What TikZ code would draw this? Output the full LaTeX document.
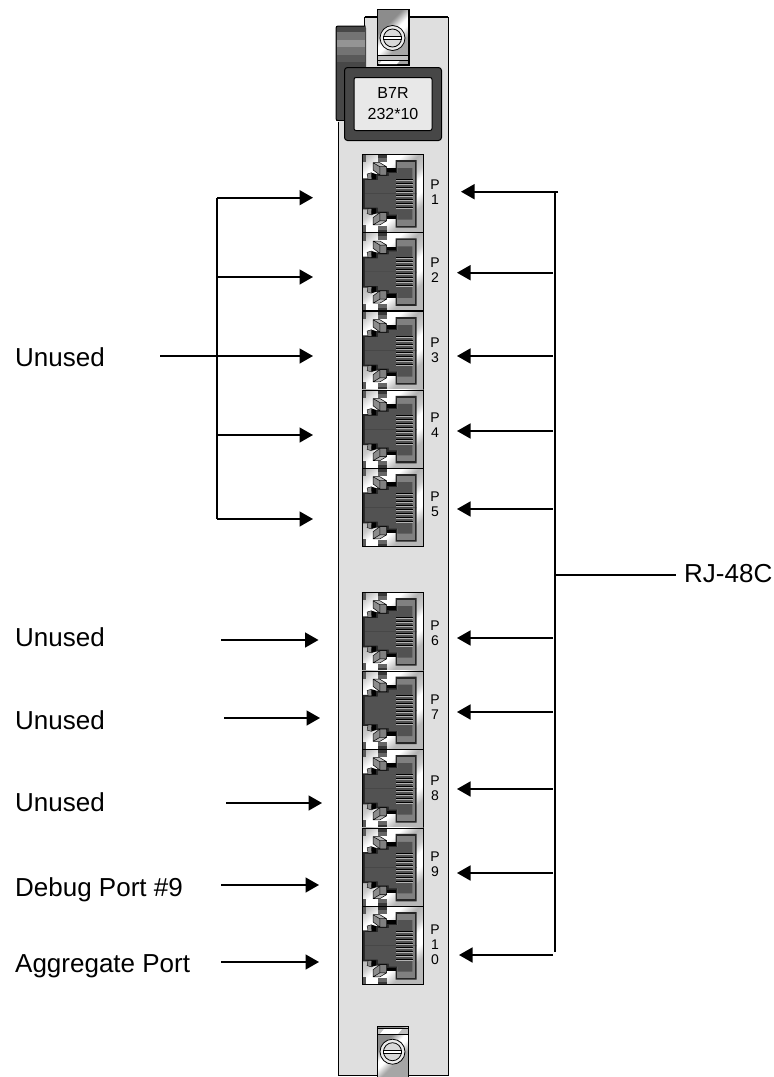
\documentclass[tikz,border=0pt]{standalone}
\usepackage{fontspec}
\setmainfont{Liberation Sans}
\usetikzlibrary{arrows.meta}
\definecolor{panelgray}{gray}{0.875}
\pgfdeclarehorizontalshading{metal}{100bp}{
  color(0bp)=(black!30); color(24bp)=(black!30); color(32bp)=(white); color(38bp)=(white); color(44bp)=(black!30);
  color(50bp)=(black!20); color(54bp)=(white); color(60bp)=(white); color(66bp)=(black!28); color(100bp)=(black!28)}
\pgfdeclarehorizontalshading{plate}{100bp}{
  color(0bp)=(black!45); color(35bp)=(black!45); color(46bp)=(white); color(52bp)=(white); color(62bp)=(black!35); color(100bp)=(black!35)}
\tikzset{
  lead/.style={line width=1.6pt,draw=black},
  pointer/.style={lead,-{Triangle[length=13.5pt,width=15pt]}},
  bigtext/.style={font=\fontsize{26}{30}\selectfont,inner sep=0pt,anchor=base west},
  portlabel/.style={font=\fontsize{14}{15}\selectfont,align=center,inner sep=0pt},
  portbox/.style={draw=black,line width=1pt,minimum width=61.5pt,minimum height=78pt,inner sep=0pt,anchor=north west},
}
\newcommand{\halfjack}{%
  \fill[black!60] (15.7,0)--(24.7,0)--(24.7,8)--(15.7,8)--cycle;
  \fill[black!78] (15.7,0.5)--(24.7,0.5)--(24.7,4)--(15.7,4)--cycle;
  \fill[black!65] (0.3,0)--(3.7,0)--(3.7,8.3)--(0.3,8.3)--cycle;
  % jack
  \fill[black!85] (33.7,6)--(54.7,6)--(54.7,40)--(1.3,40)--(1.3,24.3)--(14,24.3)--(14,20)--(24.7,20)--(24.7,16)--(33.7,16)--cycle;
  \fill[black!50] (35.5,8)--(53,8)--(53,40)--(35.5,40)--cycle;
  \fill[black!68] (3,40)--(3,26)--(16,26)--(16,22)--(27,22)--(27,19)--(35.5,19)--(35.5,14)--(50.5,14)--(50.5,40)--cycle;
  \fill[black] (24.7,14.3)--(33.7,14.3)--(33.7,17.7)--(24.7,17.7)--cycle;
  % latches
  \fill[black!28] (11.3,8.7)--(18,8.7)--(24.7,12.7)--(18,12.7)--cycle;
  \fill[black!45] (11.3,8.7)--(18,12.7)--(18,21)--(11.3,16)--cycle;
  \fill[black!50] (18,12.7)--(24.7,12.7)--(24.7,21)--(18,21)--cycle;
  \draw[black,line width=.5pt] (11.3,8.7)--(18,8.7)--(24.7,12.7)--(24.7,21)--(18,21)--(11.3,16)--cycle (11.3,8.7)--(18,12.7)--(24.7,12.7) (18,12.7)--(18,21);
  \fill[black!45] (5.3,20)--(9.7,18.7)--(10,25.3)--(6.3,25.3)--cycle;
  \fill[black] (9.7,18.7)--(14,20)--(14,25.3)--(10,25.3)--cycle;
  \draw[black,line width=.4pt] (5.3,20)--(9.7,18.7)--(10,25.3)--(6.3,25.3)--cycle;
}
\newcommand{\portart}[3]{% name, top y, label offset
  \node[portbox] (#1) at (361.8,#2) {};
  \begin{scope}[shift={(361.8,#2)}]
    \clip (0,0) rectangle (61.5,78);
    \shade[shading=metal,shading angle=-48] (-10,-10) rectangle (72,88);
    \halfjack
    \begin{scope}[shift={(0,79.6)},yscale=-1]
      \halfjack
    \end{scope}
    \foreach \py in {25,29,33,37,41,45,49,53}{
      \fill[black!30] (34.5,\py) rectangle (51.5,\py+1.8);
      \draw[black,line width=.5pt] (34.5,\py) -- (51.5,\py);
    }
  \end{scope}
  \node[portbox] at (361.8,#2) {};
  \node[portlabel] (#1l) at (435,#2+#3) {P\\\labeltext};
}
\newcommand{\screw}[2]{% name, centre y
  \node[circle,draw=black,line width=.8pt,fill=gray!15,minimum size=25pt,inner sep=0pt] (#1o) at (392.5,#2) {};
  \node[circle,draw=black,line width=.8pt,fill=gray!30,minimum size=18pt,inner sep=0pt] (#1i) at (392.5,#2) {};
  \fill[white,draw=black,line width=.7pt] (383.8,#2-1.6) rectangle (401.2,#2+1.6);
}
\begin{document}
\begin{tikzpicture}[x=1pt,y=-1pt]
\useasboundingbox (0,0) rectangle (774,1077);
% faceplate
\node[draw=black,line width=1.2pt,fill=panelgray,minimum width=110pt,minimum height=1058pt,inner sep=0pt,anchor=north west] (plate) at (337.5,17) {};
% handle
\fill[white] (330,16) rectangle (364.5,122);
\draw[black,line width=1.2pt] (364.5,17)--(447.5,17);
\fill[black!72,rounded corners=2pt] (336,26) rectangle (366,70);
\fill[black!72] (336,60) rectangle (366,121);
\fill[black!55] (337,32) rectangle (365,40);
\fill[black!42] (337,40) rectangle (365,47);
\fill[black!55] (337,47) rectangle (365,55);
\fill[black!65] (337,55) rectangle (365,62);
\draw[black,line width=1pt,rounded corners=2pt] (365,120.5)--(336,120.5)--(336,26)--(365.5,26);
\draw[black,line width=1pt] (364.8,17)--(364.8,26);
% top screw plate
\node[draw=black,line width=1pt,minimum width=31.5pt,minimum height=56pt,inner sep=0pt,anchor=north west] (topplate) at (377,9) {};
\shade[shading=plate,shading angle=-45] (377.5,9.5) rectangle (408,64.5);
\draw[black,line width=1pt] (377,9) rectangle (408.5,64.5);
\fill[black!25] (377.5,55) rectangle (408,60);
\fill[white] (382,60.5)--(400,60.5)--(397,64)--(379,64)--cycle;
\draw[black,line width=.8pt] (377,55)--(408.5,55) (377,60.5)--(408.5,60.5);
\screw{tops}{38}
% label frame
\node[draw=black,line width=1pt,fill=black!72,rounded corners=3pt,minimum width=97pt,minimum height=73pt,inner sep=0pt,anchor=north west] (frame) at (344,67) {};
\node[draw=black,line width=1pt,fill=gray!18,rounded corners=2pt,minimum width=78pt,minimum height=53pt,inner sep=0pt,align=center,font=\fontsize{16}{21}\selectfont,anchor=north west] (tag) at (353.5,77) {B7R\\232*10};
% ports
\def\labeltext{1}\portart{p1}{154}{38}
\def\labeltext{2}\portart{p2}{232.3}{38}
\def\labeltext{3}\portart{p3}{311}{39}
\def\labeltext{4}\portart{p4}{389.8}{35}
\def\labeltext{5}\portart{p5}{468}{36}
\def\labeltext{6}\portart{p6}{592}{41}
\def\labeltext{7}\portart{p7}{670.5}{37}
\def\labeltext{8}\portart{p8}{749}{39}
\def\labeltext{9}\portart{p9}{827.8}{36}
\def\labeltext{1\\0}\portart{p10}{906}{38.5}
% bottom screw plate
\fill[panelgray] (376,1025) rectangle (409,1074);
\shade[shading=plate,shading angle=-45] (377,1026) rectangle (408.5,1077);
\draw[black,line width=1pt] (377,1077)--(377,1026)--(408.5,1026)--(408.5,1077);
\fill[black!25] (377.5,1029) rectangle (408,1034);
\fill[white] (384,1029)--(402,1029)--(398,1034)--(380,1034)--cycle;
\draw[black,line width=.8pt] (377,1028.5)--(408.5,1028.5) (377,1034.5)--(408.5,1034.5);
\screw{bots}{1051.7}
% left side texts
\node[bigtext] (u1) at (15,366) {Unused};
\node[bigtext] (u2) at (15,646) {Unused};
\node[bigtext] (u3) at (15,729) {Unused};
\node[bigtext] (u4) at (15,811) {Unused};
\node[bigtext] (dbg) at (15,896.7) {Debug Port \#9};
\node[bigtext] (agg) at (15,972) {Aggregate Port};
\node[bigtext] (rj) at (684,582) {RJ-48C};
% left connectors
\coordinate (lt) at (217,197.7);
\coordinate (l2) at (217,277);
\coordinate (l3) at (160,356);
\coordinate (l4) at (217,435);
\coordinate (lb) at (217,519);
\coordinate (a1) at (313,197.7);
\coordinate (a2) at (313,277);
\coordinate (a3) at (313,356);
\coordinate (a4) at (313,435);
\coordinate (a5) at (313,519);
\draw[lead] (a1 -| lt) -- (lb);
\draw[pointer] (lt) -- (a1);
\draw[pointer] (l2) -- (a2);
\draw[pointer] (l3) -- (a3);
\draw[pointer] (l4) -- (a4);
\draw[pointer] (lb) -- (a5);
\coordinate (s6) at (221,640);  \coordinate (a6) at (318.5,640);
\coordinate (s7) at (224,718);  \coordinate (a7) at (320,718);
\coordinate (s8) at (226,803);  \coordinate (a8) at (322,803);
\coordinate (s9) at (221,885);  \coordinate (a9) at (319,885);
\coordinate (s10) at (221,962); \coordinate (a10) at (319,962);
\foreach \n in {6,7,8,9,10}{\draw[pointer] (s\n) -- (a\n);}
% right connectors
\coordinate (rt) at (555,192);
\coordinate (rb) at (555,952);
\coordinate (rjs) at (675.5,575);
\coordinate (r1e) at (558,191.7); \coordinate (r1) at (461,191.7);
\draw[lead] (rt) -- (rb);
\draw[pointer] (r1e) -- (r1);
\foreach \n/\yy/\xx in {2/272.7/457,3/356/457,4/431/457,5/509/457,6/638/457,7/712/457,8/789/457,9/873/457,10/955/459}{
  \coordinate (rs\n) at (553,\yy);
  \coordinate (r\n) at (\xx,\yy);
  \draw[pointer] (rs\n) -- (r\n);
}
\draw[lead] (rjs -| rt) -- (rjs);
\end{tikzpicture}
\end{document}
